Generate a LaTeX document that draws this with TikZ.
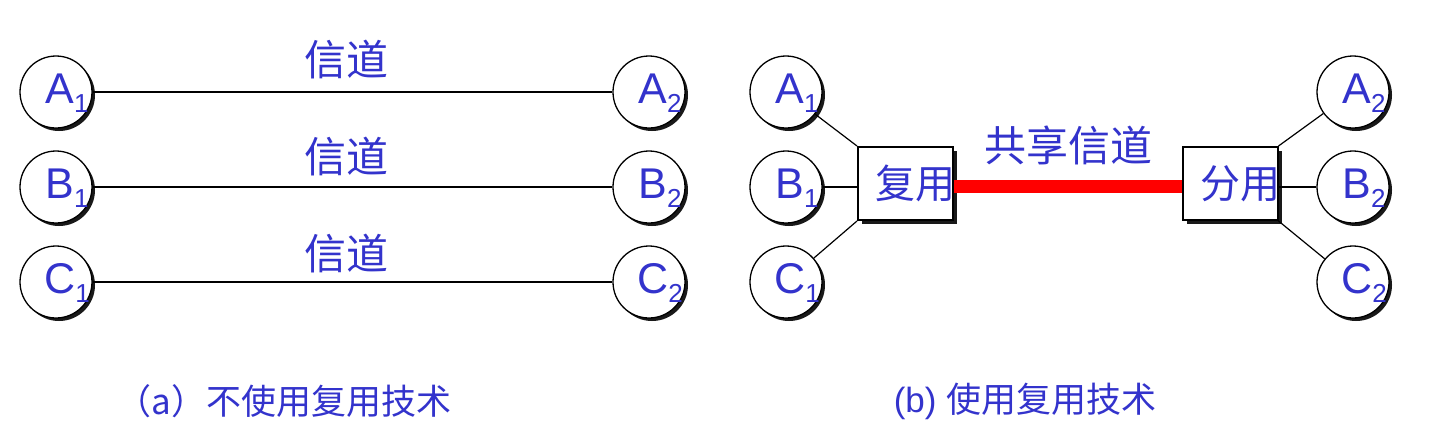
\documentclass[tikz,border=0pt]{standalone}
\usepackage{fontspec}
\setmainfont{Liberation Sans}
\newfontfamily\cjk{Noto Sans CJK SC}
\usetikzlibrary{shadows}
\definecolor{txtblue}{RGB}{51,51,204}
\definecolor{chanred}{RGB}{255,0,0}
\tikzset{
  stn/.style={circle, draw=black, line width=1.3pt, fill=white, minimum size=72pt, inner sep=0pt,
    drop shadow={shadow xshift=3pt, shadow yshift=-3pt, fill=black!90, opacity=1}},
  stnlab/.style={anchor=base, text=txtblue, inner sep=0pt, font=\fontsize{43}{43}\selectfont},
  muxbox/.style={rectangle, draw=black, line width=2pt, fill=white, minimum width=95pt, minimum height=73pt, inner sep=0pt,
    drop shadow={shadow xshift=4pt, shadow yshift=-4pt, fill=black!90, opacity=1}},
  boxlab/.style={text=txtblue, inner sep=0pt, font=\cjk\fontsize{40}{40}\selectfont},
  chan/.style={text=txtblue, inner sep=0pt, font=\cjk\fontsize{42}{42}\selectfont},
  captext/.style={text=txtblue, inner sep=0pt, font=\fontsize{35}{35}\selectfont},
  wire/.style={draw=black, line width=1.5pt},
  thinwire/.style={draw=black, line width=1.2pt},
  shared/.style={draw=chanred, line width=12.5pt},
}
\newcommand\station[5]{%
  \node[stn] (#1) at (#2,#3) {};
  \node[stnlab] (#1t) at ([xshift=11pt,yshift=-11pt]#1.center) {#4\raisebox{-9pt}{\fontsize{26}{26}\selectfont #5}};%
}
\begin{document}
\begin{tikzpicture}[x=1pt,y=-1pt]
\useasboundingbox (0,0) rectangle (1435,432);
% (a)
\station{aA1}{56}{92}{A}{1}
\station{aB1}{56}{187}{B}{1}
\station{aC1}{56}{282}{C}{1}
\station{aA2}{649}{92}{A}{2}
\station{aB2}{649}{187}{B}{2}
\station{aC2}{649}{282}{C}{2}
\draw[wire] (aA1) -- (aA2);
\draw[wire] (aB1) -- (aB2);
\draw[wire] (aC1) -- (aC2);
\node[chan] (chA) at (346,60) {信道};
\node[chan] (chB) at (346,157) {信道};
\node[chan] (chC) at (346,254) {信道};
% (b)
\station{bA1}{786}{92}{A}{1}
\station{bB1}{786}{187}{B}{1}
\station{bC1}{786}{282}{C}{1}
\station{bA2}{1353}{92}{A}{2}
\station{bB2}{1353}{187}{B}{2}
\station{bC2}{1353}{282}{C}{2}
\node[muxbox] (mux) at (905.5,183.5) {};
\node[muxbox] (demux) at (1230,183.5) {};
\node[boxlab] (muxt) at ([xshift=10pt]mux.center) {复用};
\node[boxlab] (demuxt) at ([xshift=10pt]demux.center) {分用};
\draw[thinwire] (bA1) -- (mux.north west);
\draw[thinwire] (bB1) -- (mux.west |- bB1.center);
\draw[thinwire] (bC1) -- (mux.south west);
\draw[thinwire] (bA2) -- (demux.north east);
\draw[thinwire] (bB2) -- (demux.east |- bB2.center);
\draw[thinwire] (bC2) -- (demux.south east);
\draw[shared] ([yshift=-3pt]mux.east) -- ([yshift=-3pt]demux.west);
\node[chan] (sh) at (1068,145) {共享信道};
% captions
\node[captext] (capa) at (284,401) {\cjk （a）不使用复用技术};
\node[captext] (capb) at (1025,401) {(b) {\cjk 使用复用技术}};
\end{tikzpicture}
\end{document}
